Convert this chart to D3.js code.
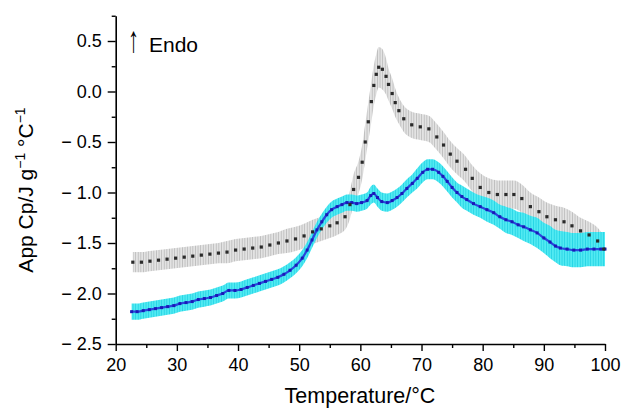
<!DOCTYPE html>
<html><head><meta charset="utf-8">
<script src="https://cdn.jsdelivr.net/npm/d3@7"></script>
<style>body{margin:0;background:#fff}svg{display:block}text{font-family:"Liberation Sans",Arial,Helvetica,sans-serif;fill:#000}</style>
</head><body><svg id="c" width="627" height="410"></svg>
<script>
// ---- data ----
const blackT = [22.8,24.2,25.6,27.0,28.4,29.8,31.2,32.6,34.0,35.4,36.8,38.2,39.6,41.0,42.4,43.8,45.2,46.6,48.0,49.4,50.8,52.2,53.6,55.0,56.2,57.5,58.3,58.9,59.7,60.3,60.8,61.3,61.8,62.2,62.6,63.0,63.6,64.2,64.6,65.2,65.7,66.3,67.1,68.4,69.8,71.2,72.5,73.6,74.7,75.8,77.2,78.3,79.6,81.0,82.4,83.8,85.1,86.4,87.8,89.2,90.5,91.9,93.3,94.6,96.0,97.4,98.8,99.8];
const blackY = [-1.69,-1.69,-1.68,-1.67,-1.66,-1.65,-1.64,-1.63,-1.62,-1.61,-1.60,-1.59,-1.57,-1.56,-1.55,-1.54,-1.52,-1.50,-1.48,-1.46,-1.43,-1.39,-1.36,-1.33,-1.30,-1.24,-1.12,-0.97,-0.85,-0.70,-0.50,-0.30,-0.10,0.06,0.17,0.24,0.22,0.15,0.07,-0.02,-0.11,-0.19,-0.27,-0.33,-0.35,-0.37,-0.45,-0.53,-0.62,-0.69,-0.77,-0.86,-0.95,-1.00,-1.02,-1.02,-1.02,-1.06,-1.14,-1.19,-1.24,-1.27,-1.29,-1.33,-1.38,-1.42,-1.48,-1.56];
const blackErr = [0.10,0.10,0.10,0.10,0.10,0.10,0.10,0.10,0.10,0.10,0.10,0.11,0.11,0.11,0.11,0.11,0.11,0.11,0.12,0.12,0.12,0.12,0.12,0.12,0.12,0.13,0.14,0.15,0.16,0.17,0.18,0.19,0.20,0.20,0.20,0.20,0.20,0.18,0.16,0.15,0.14,0.13,0.13,0.13,0.13,0.13,0.13,0.13,0.13,0.13,0.13,0.13,0.14,0.14,0.14,0.14,0.14,0.14,0.14,0.14,0.14,0.14,0.14,0.14,0.13,0.13,0.13,0.13];
const blueT = [22.6,23.5,24.5,25.5,26.5,27.5,28.5,29.5,30.5,31.5,32.5,33.5,34.5,35.5,36.5,37.5,38.5,39.5,40.5,41.5,42.5,43.5,44.5,45.5,46.5,47.5,48.5,49.5,50.5,51.3,52.1,52.9,53.7,54.5,55.3,56.2,57.0,57.8,58.6,59.4,60.2,61.1,61.7,62.2,62.8,63.5,64.4,65.2,66.0,66.8,67.6,68.5,69.3,70.2,71.0,71.8,72.8,73.5,74.2,75.0,75.8,76.6,77.4,78.5,79.6,80.7,81.8,82.8,83.8,84.8,85.8,86.7,87.8,88.9,90.0,91.0,91.9,92.7,93.8,94.9,96.0,97.1,98.2,99.3,100.0];
const blueY = [-2.18,-2.18,-2.17,-2.16,-2.15,-2.14,-2.13,-2.12,-2.10,-2.09,-2.08,-2.06,-2.05,-2.04,-2.02,-2.00,-1.97,-1.97,-1.96,-1.94,-1.92,-1.90,-1.88,-1.86,-1.84,-1.81,-1.77,-1.72,-1.65,-1.57,-1.47,-1.37,-1.29,-1.22,-1.17,-1.14,-1.12,-1.10,-1.10,-1.11,-1.10,-1.08,-1.03,-1.01,-1.05,-1.09,-1.10,-1.08,-1.05,-1.01,-0.96,-0.91,-0.86,-0.80,-0.77,-0.77,-0.80,-0.84,-0.89,-0.95,-1.00,-1.04,-1.07,-1.11,-1.14,-1.17,-1.20,-1.24,-1.27,-1.29,-1.32,-1.34,-1.37,-1.40,-1.45,-1.49,-1.53,-1.55,-1.56,-1.57,-1.57,-1.56,-1.56,-1.56,-1.56];
const blueErr = [0.08,0.08,0.08,0.08,0.08,0.08,0.08,0.08,0.08,0.08,0.08,0.08,0.08,0.08,0.08,0.08,0.08,0.08,0.08,0.08,0.08,0.08,0.08,0.08,0.08,0.08,0.08,0.08,0.08,0.08,0.08,0.08,0.08,0.08,0.08,0.08,0.08,0.08,0.08,0.08,0.08,0.08,0.09,0.09,0.09,0.09,0.09,0.09,0.09,0.09,0.09,0.09,0.10,0.10,0.10,0.10,0.10,0.10,0.10,0.10,0.10,0.11,0.11,0.11,0.11,0.12,0.12,0.12,0.13,0.13,0.13,0.14,0.14,0.15,0.15,0.16,0.16,0.17,0.17,0.17,0.17,0.17,0.17,0.17,0.17];
const xTicks = [20,30,40,50,60,70,80,90,100];
const xMinor = [25,35,45,55,65,75,85,95];
const yTicks = [0.5,0.0,-0.5,-1.0,-1.5,-2.0,-2.5];
const yMinor = [0.75,0.25,-0.25,-0.75,-1.25,-1.75,-2.25];

// ---- chart ----
const svg = d3.select("#c");
const x = d3.scaleLinear().domain([20,100]).range([115.7,605]);
const y = d3.scaleLinear().domain([-2.5,0.75]).range([344,15.75]);

const defs = svg.append("defs");
const pg = defs.append("pattern").attr("id","hg").attr("patternUnits","userSpaceOnUse").attr("width",2.6).attr("height",10);
pg.append("rect").attr("width",2.6).attr("height",10).attr("fill","#e3e3e3");
pg.append("rect").attr("width",0.6).attr("height",10).attr("fill","#acacac");
const pc = defs.append("pattern").attr("id","hc").attr("patternUnits","userSpaceOnUse").attr("width",2.6).attr("height",10);
pc.append("rect").attr("width",2.6).attr("height",10).attr("fill","#52eaf2");
pc.append("rect").attr("width",0.8).attr("height",10).attr("fill","#22d2e4");

const black = blackT.map((t,i)=>({t, v:blackY[i], e:blackErr[i]}));
const blue = blueT.map((t,i)=>({t, v:blueY[i], e:blueErr[i]}));
const area = d3.area().x(d=>x(d.t)).y0(d=>y(d.v-d.e)).y1(d=>y(d.v+d.e)).curve(d3.curveMonotoneX);
const line = d3.line().x(d=>x(d.t)).y(d=>y(d.v)).curve(d3.curveMonotoneX);

svg.append("path").datum(black).attr("d",area).attr("fill","url(#hg)");
svg.append("path").datum(blue).attr("d",area).attr("fill","url(#hc)");
svg.append("path").datum(blue).attr("d",line).attr("fill","none").attr("stroke","#2a45dc").attr("stroke-width",2.2);
svg.append("g").selectAll("rect").data(blue).join("rect")
  .attr("x",d=>x(d.t)-1.5).attr("y",d=>y(d.v)-1.5).attr("width",3).attr("height",3).attr("fill","#1a1ab8");
svg.append("g").selectAll("rect").data(black).join("rect")
  .attr("x",d=>x(d.t)-1.6).attr("y",d=>y(d.v)-1.6).attr("width",3.2).attr("height",3.2).attr("fill","#2a2a2a");

// axes
const fmt = d => d < 0 ? "\u2212 " + Math.abs(d).toFixed(1) : d.toFixed(1);
svg.append("g").attr("transform","translate(0,344)")
  .call(d3.axisBottom(x).tickValues(xTicks).tickSize(7).tickSizeOuter(0).tickPadding(7).tickFormat(d3.format("d")));
svg.append("g").attr("transform","translate(0,344)")
  .call(d3.axisBottom(x).tickValues(xMinor).tickSize(4).tickFormat("")).select(".domain").remove();
svg.append("g").attr("transform","translate(115.7,0)")
  .call(d3.axisLeft(y).tickValues(yTicks).tickSize(8).tickSizeOuter(0).tickPadding(6).tickFormat(fmt));
svg.append("g").attr("transform","translate(115.7,0)")
  .call(d3.axisLeft(y).tickValues(yMinor).tickSize(4).tickFormat("")).select(".domain").remove();
svg.selectAll(".domain").attr("stroke","#000").attr("stroke-width",1.6);
svg.selectAll(".tick line").attr("stroke","#000").attr("stroke-width",1.4);
svg.selectAll(".tick text").attr("font-size",18).attr("font-family","Liberation Sans, Arial, sans-serif").attr("fill","#000");

svg.append("text").attr("x",360).attr("y",403).attr("text-anchor","middle").attr("font-size",21.5).text("Temperature/°C");
const yl = svg.append("text").attr("transform","translate(33,190) rotate(-90)").attr("text-anchor","middle").attr("font-size",21);
yl.append("tspan").text("App Cp/J g");
yl.append("tspan").attr("dy",-8).attr("font-size",14).text("\u22121");
yl.append("tspan").attr("dy",8).text(" °C");
yl.append("tspan").attr("dy",-8).attr("font-size",14).text("\u22121");

svg.append("text").attr("transform","translate(128,52) scale(1.05,1.75)").attr("font-size",21).text("\u2191");
svg.append("text").attr("x",149).attr("y",52).attr("font-size",21).text("Endo");
</script></body></html>
